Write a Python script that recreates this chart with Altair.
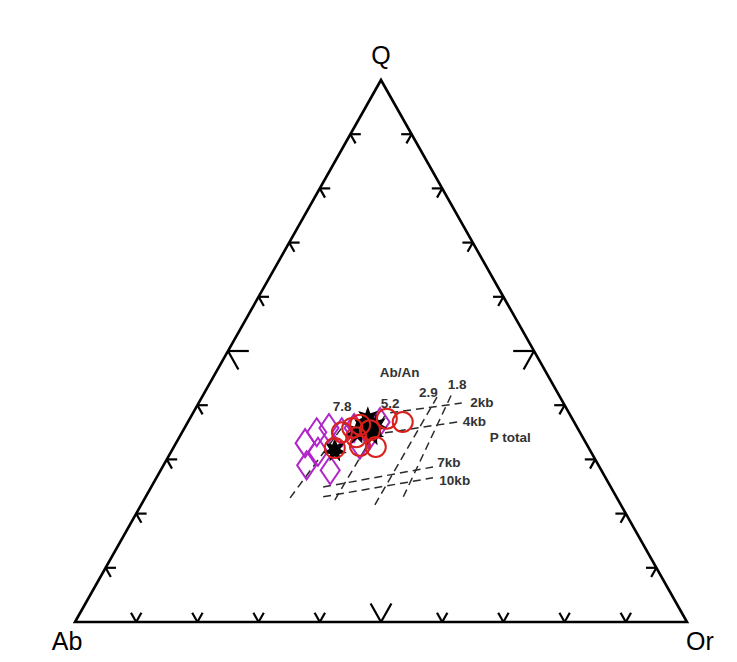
import altair as alt
import pandas as pd

# ---- data (ternary percentages: Q, Ab, Or) ----
diamond_q = [33.0, 35.0, 35.8, 35.0, 35.8, 28.9, 28.0, 32.7, 36.9, 34.5, 31.4]
diamond_ab = [45.9, 43.0, 40.6, 38.9, 36.5, 47.7, 44.3, 37.1, 31.7, 34.6, 44.6]
diamond_or = [21.1, 22.0, 23.6, 26.1, 27.7, 23.4, 27.7, 30.2, 31.4, 30.9, 24.0]

circle_q = [32.1, 35.0, 35.8, 36.4, 32.5, 32.3, 37.5, 36.9, 34.1, 35.4]
circle_ab = [41.5, 38.9, 36.8, 35.2, 37.2, 34.7, 30.3, 28.0, 37.0, 34.1]
circle_or = [26.4, 26.1, 27.4, 28.4, 30.3, 33.0, 32.2, 35.1, 28.9, 30.5]

star_q = [31.7, 35.0, 37.5, 36.2, 34.7, 36.0]
star_ab = [41.7, 36.4, 33.4, 32.7, 34.1, 34.8]
star_or = [26.6, 28.6, 29.1, 31.1, 31.2, 29.2]

# dashed isopleths: name, start (Q, Or), end (Q, Or)
line_names = ["7.8", "5.2", "2.9", "1.8", "2kb", "4kb", "7kb", "10kb"]
line_q1 = [22.9, 22.5, 21.6, 23.1, 38.6, 34.9, 24.9, 23.1]
line_or1 = [23.7, 31.2, 38.2, 42.1, 32.2, 33.2, 28.1, 29.0]
line_q2 = [36.7, 38.2, 41.5, 42.4, 40.4, 36.9, 28.6, 26.6]
line_or2 = [25.8, 31.6, 38.4, 40.5, 43.0, 44.0, 44.2, 45.2]

# annotation labels with positions (Q, Or)
ann_text = ["Ab/An", "7.8", "5.2", "2.9", "1.8", "2kb", "4kb", "P total", "7kb", "10kb"]
ann_q = [45.9, 39.7, 40.2, 42.3, 43.7, 40.4, 36.9, 34.0, 29.4, 26.1]
ann_or = [30.1, 23.8, 31.4, 36.6, 40.6, 46.3, 46.8, 54.1, 46.4, 49.0]

tick_pct = [10, 20, 30, 40, 50, 60, 70, 80, 90]
vertex_names = ["Q", "Ab", "Or"]


def xy(q, or_):
    return (or_ + q / 2.0) / 100.0, q / 100.0


rows = []
for kind, qs, abs_, ors in [("dia", diamond_q, diamond_ab, diamond_or),
                            ("star", star_q, star_ab, star_or),
                            ("cir", circle_q, circle_ab, circle_or)]:
    for q, a, o in zip(qs, abs_, ors):
        s = q + a + o
        q, o = q * 100 / s, o * 100 / s
        x, y = xy(q, o)
        rows.append({"kind": kind, "x": x, "y": y})
df_pts = pd.DataFrame(rows)

rows = []
for n, q1, o1, q2, o2 in zip(line_names, line_q1, line_or1, line_q2, line_or2):
    x1, y1 = xy(q1, o1)
    x2, y2 = xy(q2, o2)
    rows.append({"name": n, "x": x1, "y": y1, "x2": x2, "y2": y2})
df_lines = pd.DataFrame(rows)

rows = []
for t, q, o in zip(ann_text, ann_q, ann_or):
    x, y = xy(q, o)
    rows.append({"t": t, "x": x, "y": y, "kind": "ann"})
for n, (q, o) in zip(vertex_names, [(100, 0), (0, 0), (0, 100)]):
    x, y = xy(q, o)
    rows.append({"t": n, "x": x, "y": y, "kind": n})
df_txt = pd.DataFrame(rows)

# triangle outline
tri = []
for i, (q, o) in enumerate([(0, 0), (100, 0), (0, 100), (0, 0), (100, 0)]):
    x, y = xy(q, o)
    tri.append({"x": x, "y": y, "o": i})
df_tri = pd.DataFrame(tri)

# tick marks (two grid-line stubs at each tick)
rows = []
for p in tick_pct:
    L = 3.4 if p == 50 else 1.7
    f = p
    x0, y0 = xy(f, 0)
    for q, o in [(f, L), (f - L, L)]:
        x1, y1 = xy(q, o)
        rows.append({"x": x0, "y": y0, "x2": x1, "y2": y1})
    x0, y0 = xy(0, f)
    for q, o in [(L, f), (L, f - L)]:
        x1, y1 = xy(q, o)
        rows.append({"x": x0, "y": y0, "x2": x1, "y2": y1})
    x0, y0 = xy(f, 100 - f)
    for q, o in [(f, 100 - f - L), (f - L, 100 - f)]:
        x1, y1 = xy(q, o)
        rows.append({"x": x0, "y": y0, "x2": x1, "y2": y1})
df_ticks = pd.DataFrame(rows)

# ---- scales ----
xsc = alt.Scale(domain=[-0.109477, 1.068627], nice=False, zero=False)
ysc = alt.Scale(domain=[-0.059041, 1.132841], nice=False, zero=False)
X = alt.X("x:Q", scale=xsc, axis=None)
Y = alt.Y("y:Q", scale=ysc, axis=None)

outline = alt.Chart(df_tri).mark_line(color="black", strokeWidth=2.6, strokeJoin="miter").encode(
    x=X, y=Y, order="o:Q")

ticks = alt.Chart(df_ticks).mark_rule(color="black", strokeWidth=2.2).encode(
    x=X, y=Y, x2="x2:Q", y2="y2:Q")

dashed = alt.Chart(df_lines).mark_rule(color="#2a2a2a", strokeWidth=1.5, strokeDash=[8, 5]).encode(
    x=X, y=Y, x2="x2:Q", y2="y2:Q")

base = alt.Chart(df_pts)
dia = base.transform_filter(alt.datum.kind == "dia").mark_point(
    shape="M0,-1L0.68,0L0,1L-0.68,0Z", size=784, filled=False,
    color="#b026c8", strokeWidth=2, opacity=1).encode(x=X, y=Y)

star_path = ("M0,-1L0.2,-0.45L0.78,-0.62L0.44,-0.1L0.97,0.22L0.38,0.3L0.43,0.9L0,0.49"
             "L-0.43,0.9L-0.38,0.3L-0.97,0.22L-0.44,-0.1L-0.78,-0.62L-0.2,-0.45Z")
stars = base.transform_filter(alt.datum.kind == "star").mark_point(
    shape=star_path, size=620, filled=True, color="black", opacity=1).encode(x=X, y=Y)

cir = base.transform_filter(alt.datum.kind == "cir").mark_point(
    shape="circle", size=400, filled=False,
    color="#d8201c", strokeWidth=2, opacity=1).encode(x=X, y=Y)

tbase = alt.Chart(df_txt)
ann = tbase.transform_filter(alt.datum.kind == "ann").mark_text(
    font="Liberation Sans", fontSize=13.5, fontWeight="bold", color="#333333").encode(x=X, y=Y, text="t:N")
vq = tbase.transform_filter(alt.datum.kind == "Q").mark_text(
    font="Liberation Sans", fontSize=25, color="black", dy=-24).encode(x=X, y=Y, text="t:N")
vab = tbase.transform_filter(alt.datum.kind == "Ab").mark_text(
    font="Liberation Sans", fontSize=25, color="black", dx=-8, dy=20).encode(x=X, y=Y, text="t:N")
vor = tbase.transform_filter(alt.datum.kind == "Or").mark_text(
    font="Liberation Sans", fontSize=25, color="black", dx=13, dy=20).encode(x=X, y=Y, text="t:N")

chart = alt.layer(dashed, outline, ticks, ann, vq, vab, vor, dia, stars, cir).properties(
    width=721, height=646, autosize=alt.AutoSizeParams(type="none"), padding=0
).configure_view(stroke=None)

chart.save("out.html", embed_options={"renderer": "svg", "actions": False})
